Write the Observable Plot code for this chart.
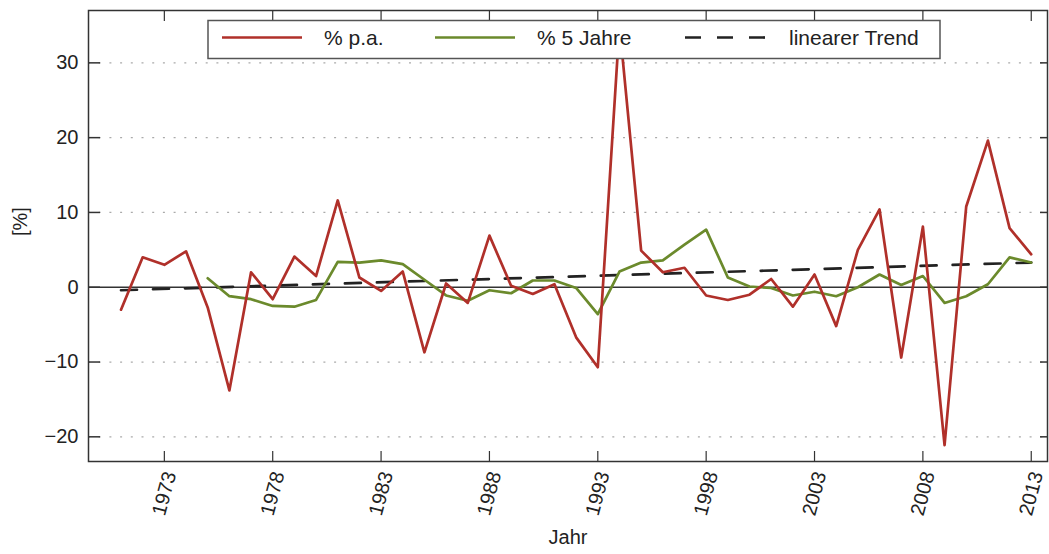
<!DOCTYPE html>
<html>
<head>
<meta charset="utf-8">
<script src="https://cdn.jsdelivr.net/npm/d3@7"></script>
<script src="https://cdn.jsdelivr.net/npm/@observablehq/plot@0.6"></script>
<style>
  html, body { margin: 0; padding: 0; background: #fff; }
  #chart { width: 1049px; height: 554px; }
  svg { font-family: "Liberation Sans", Arial, sans-serif; }
</style>
</head>
<body>
<div id="chart"></div>
<script>
// --- data ---
const yearsPA = d3.range(1971, 2014);
const valuesPA = [
  -3.0, 4.0, 3.0, 4.8, -2.7, -13.8, 2.0, -1.6, 4.1, 1.5,
  11.6, 1.3, -0.5, 2.1, -8.7, 0.5, -2.1, 6.9, 0.2, -0.9,
  0.4, -6.7, -10.7, 35.0, 4.9, 2.0, 2.6, -1.1, -1.7, -1.0,
  1.1, -2.6, 1.7, -5.2, 5.0, 10.4, -9.4, 8.1, -21.1, 10.8,
  19.6, 7.9, 4.4
];
const years5 = d3.range(1975, 2014);
const values5 = [
  1.2, -1.2, -1.6, -2.5, -2.6, -1.7, 3.4, 3.3, 3.6, 3.1,
  1.0, -1.1, -1.8, -0.4, -0.8, 0.9, 0.9, -0.1, -3.6, 2.1,
  3.3, 3.6, 5.7, 7.7, 1.3, 0.1, -0.1, -1.1, -0.6, -1.2,
  0.0, 1.7, 0.3, 1.5, -2.1, -1.2, 0.4, 4.0, 3.3
];
const trendYears = [1971, 2013];
const trendValues = [-0.4, 3.3];
const xTicks = [1973, 1978, 1983, 1988, 1993, 1998, 2003, 2008, 2013];
const yTicks = [-20, -10, 0, 10, 20, 30];
const seriesNames = ["% p.a.", "% 5 Jahre", "linearer Trend"];
const xLabel = "Jahr";
const yLabel = "[%]";

const RED = "#b0302a";
const GREEN = "#6b8a2c";
const DARK = "#222222";

const pa = yearsPA.map((y, i) => ({year: y, value: valuesPA[i]}));
const five = years5.map((y, i) => ({year: y, value: values5[i]}));
const trend = trendYears.map((y, i) => ({year: y, value: trendValues[i]}));
const fmt = d => d < 0 ? "\u2212" + Math.abs(d) : String(d);

const chart = Plot.plot({
  width: 1049,
  height: 554,
  marginLeft: 88,
  marginRight: 2,
  marginTop: 10,
  marginBottom: 93,
  style: {fontFamily: "Liberation Sans, Arial, sans-serif", color: DARK, background: "#fff"},
  x: {type: "linear", domain: [1969.5, 2013.75], ticks: xTicks},
  y: {domain: [-23.3, 37], ticks: yTicks},
  marks: [
    Plot.ruleY(yTicks.filter(d => d !== 0), {stroke: "#aaaaaa", strokeWidth: 1.3, strokeDasharray: "2,8.7"}),
    Plot.ruleY([0], {stroke: "#333", strokeWidth: 1.3}),
    Plot.lineY(trend, {x: "year", y: "value", stroke: DARK, strokeWidth: 2.7, strokeDasharray: "16,16"}),
    Plot.lineY(five, {x: "year", y: "value", stroke: GREEN, strokeWidth: 2.7}),
    Plot.lineY(pa, {x: "year", y: "value", stroke: RED, strokeWidth: 2.7}),
    // inward ticks
    Plot.axisY(yTicks, {anchor: "left", tickSize: 12, dx: 12, text: null, label: null, stroke: "#333", strokeWidth: 1.5}),
    Plot.axisY(yTicks, {anchor: "right", tickSize: 8, dx: -8, text: null, label: null, stroke: "#333", strokeWidth: 1.5}),
    Plot.axisX(xTicks, {anchor: "bottom", tickSize: 10, dy: -10, text: null, label: null, stroke: "#333", strokeWidth: 1.2}),
    Plot.axisX(xTicks, {anchor: "top", tickSize: 10, dy: 10, text: null, label: null, stroke: "#333", strokeWidth: 1.2}),
    // tick labels
    Plot.axisY(yTicks, {anchor: "left", tickSize: 0, tickPadding: 10, fontSize: 20, tickFormat: fmt, label: null, fill: DARK}),
    Plot.text(xTicks, {x: d => d, frameAnchor: "bottom", dy: 32, rotate: -75, text: d => String(d), fontSize: 20, textAnchor: "middle", lineAnchor: "middle", fill: DARK}),
    Plot.text([xLabel], {frameAnchor: "bottom", dy: 82, text: d => d, fontSize: 20, fill: DARK}),
    Plot.text([yLabel], {frameAnchor: "left", dx: -68, rotate: -90, text: d => d, fontSize: 20, fill: DARK}),
    Plot.frame({stroke: "#333", strokeWidth: 1.5})
  ]
});
document.getElementById("chart").appendChild(chart);

// legend inside the plot area
const svg = d3.select(chart);
const lg = svg.append("g").attr("font-family", "Liberation Sans, Arial, sans-serif")
  .attr("font-size", 21).attr("fill", DARK).attr("text-anchor", "start");
lg.append("rect").attr("x", 208).attr("y", 20.5).attr("width", 732).attr("height", 38)
  .attr("fill", "#fff").attr("stroke", "#555").attr("stroke-width", 1.5);
const entries = [
  {name: seriesNames[0], color: RED, dash: null, x: 222, tx: 324},
  {name: seriesNames[1], color: GREEN, dash: null, x: 435, tx: 537},
  {name: seriesNames[2], color: DARK, dash: "16,16", x: 685, tx: 789}
];
entries.forEach(e => {
  lg.append("line").attr("x1", e.x).attr("x2", e.x + 80).attr("y1", 37.5).attr("y2", 37.5)
    .attr("stroke", e.color).attr("stroke-width", 2.7).attr("stroke-dasharray", e.dash);
  lg.append("text").attr("x", e.tx).attr("y", 37.5).attr("dy", "0.35em")
    .attr("text-anchor", "start").text(e.name);
});
</script>
</body>
</html>
